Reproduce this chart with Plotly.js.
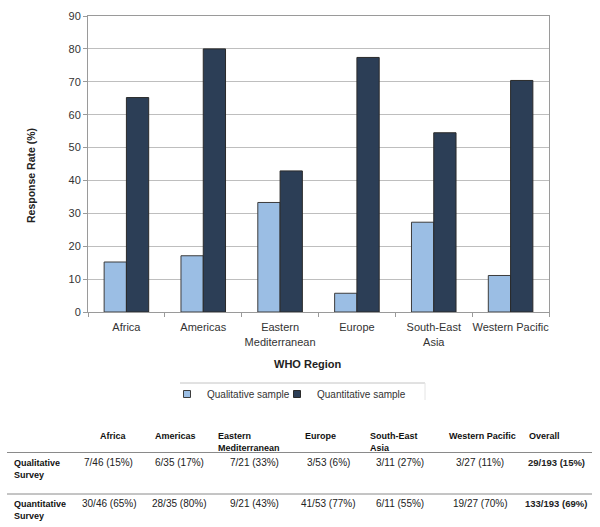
<!DOCTYPE html>
<html>
<head>
<meta charset="utf-8">
<script src="https://cdn.plot.ly/plotly-3.0.1.min.js"></script>
<style>html,body{margin:0;padding:0;background:#fff;}#chart{width:600px;height:527px;}</style>
</head>
<body>
<div id="chart"></div>
<script>
// ---- data ----
var regions = ['Africa', 'Americas', 'Eastern Mediterranean', 'Europe', 'South-East Asia', 'Western Pacific'];
var regionTickLabels = ['Africa', 'Americas', 'Eastern<br>Mediterranean', 'Europe', 'South-East<br>Asia', 'Western Pacific'];
var qualitativeRate = [15.2, 17.1, 33.3, 5.7, 27.3, 11.1];
var quantitativeRate = [65.2, 80.0, 42.9, 77.4, 54.5, 70.4];
var seriesNames = ['Qualitative sample', 'Quantitative sample'];
var yTicks = [0, 10, 20, 30, 40, 50, 60, 70, 80, 90];

var tableColumns = ['Africa', 'Americas', 'Eastern<br>Mediterranean', 'Europe', 'South-East<br>Asia', 'Western Pacific', 'Overall'];
var tableRowLabels = ['Qualitative<br>Survey', 'Quantitative<br>Survey'];
var qualitativeCells = ['7/46 (15%)', '6/35 (17%)', '7/21 (33%)', '3/53 (6%)', '3/11 (27%)', '3/27 (11%)', '29/193 (15%)'];
var quantitativeCells = ['30/46 (65%)', '28/35 (80%)', '9/21 (43%)', '41/53 (77%)', '6/11 (55%)', '19/27 (70%)', '133/193 (69%)'];

// ---- layout helpers (pixel -> paper) ----
var W = 600, H = 527;
var M = {l: 88, r: 51, t: 16, b: 215};
var PW = W - M.l - M.r, PH = H - M.t - M.b;
function px(x) { return (x - M.l) / PW; }
function py(y) { return (H - M.b - y) / PH; }

var FONT = 'Liberation Sans, Arial, Helvetica, sans-serif';
var LIGHT = '#9BBEE4';
var DARK = '#2C3E56';

var traces = [
  {type: 'bar', name: seriesNames[0], x: regions, y: qualitativeRate, showlegend: false,
   marker: {color: LIGHT, line: {color: '#3c3c3c', width: 1}}, hoverinfo: 'x+y'},
  {type: 'bar', name: seriesNames[1], x: regions, y: quantitativeRate, showlegend: false,
   marker: {color: DARK, line: {color: '#2a2a2a', width: 1}}, hoverinfo: 'x+y'},
  // legend keys (small squares)
  {type: 'scatter', mode: 'markers', name: seriesNames[0], x: [null], y: [null], legend: 'legend',
   marker: {symbol: 'square', size: 7, color: LIGHT, line: {color: '#3c3c3c', width: 1}}},
  {type: 'scatter', mode: 'markers', name: seriesNames[1], x: [null], y: [null], legend: 'legend2',
   marker: {symbol: 'square', size: 7, color: DARK, line: {color: '#2a2a2a', width: 1}}}
];

var colCenters = [108.5, 179, 254, 328, 400, 480, 556];
var headerLeft = [98, 153, 216, 303, 368, 447, 527];

var annotations = [
  {text: '<b>Response Rate (%)</b>', xref: 'paper', yref: 'paper', x: px(31), y: py(176),
   xanchor: 'center', yanchor: 'middle',
   textangle: -90, showarrow: false, font: {family: FONT, size: 10.5, color: '#222'}},
  {text: '<b>WHO Region</b>', xref: 'paper', yref: 'paper', x: px(307), y: py(364),
   xanchor: 'center', yanchor: 'middle',
   showarrow: false, font: {family: FONT, size: 11, color: '#222'}}
];

tableColumns.forEach(function (c, i) {
  annotations.push({text: '<b>' + c + '</b>', xref: 'paper', yref: 'paper', x: px(headerLeft[i]), y: py(429),
    xanchor: 'left', yanchor: 'top', align: 'left', showarrow: false,
    font: {family: FONT, size: 9, color: '#111'}});
});
var rowTops = [456, 497];
tableRowLabels.forEach(function (r, i) {
  annotations.push({text: '<b>' + r + '</b>', xref: 'paper', yref: 'paper', x: px(12), y: py(rowTops[i]),
    xanchor: 'left', yanchor: 'top', align: 'left', showarrow: false,
    font: {family: FONT, size: 9, color: '#111'}});
});
var rowCenters = [462, 503];
[qualitativeCells, quantitativeCells].forEach(function (row, r) {
  row.forEach(function (v, i) {
    var last = i === row.length - 1;
    annotations.push({text: last ? '<b>' + v + '</b>' : v, xref: 'paper', yref: 'paper',
      x: px(colCenters[i]), y: py(rowCenters[r]), xanchor: 'center', yanchor: 'middle', showarrow: false,
      font: {family: FONT, size: last ? 9.5 : 10, color: '#222'}});
  });
});

var shapes = [
  {type: 'line', xref: 'paper', yref: 'paper', x0: px(180), x1: px(425), y0: py(383), y1: py(383),
   line: {color: '#c4c4c4', width: 1}},
  {type: 'line', xref: 'paper', yref: 'paper', x0: px(425), x1: px(425), y0: py(383), y1: py(400),
   line: {color: '#e4e4e4', width: 1}},
  {type: 'line', xref: 'paper', yref: 'paper', x0: px(7), x1: px(592), y0: py(452.5), y1: py(452.5),
   line: {color: '#8a8a8a', width: 1}},
  {type: 'line', xref: 'paper', yref: 'paper', x0: px(7), x1: px(592), y0: py(494), y1: py(494),
   line: {color: '#8a8a8a', width: 1}}
];

var legendCommon = {orientation: 'h', xanchor: 'left', y: py(394), yanchor: 'middle',
  bgcolor: 'rgba(0,0,0,0)', borderwidth: 0, font: {family: FONT, size: 10, color: '#333'}, itemwidth: 30};

var layout = {
  width: W, height: H,
  margin: M,
  paper_bgcolor: '#fff', plot_bgcolor: '#fff',
  font: {family: FONT, size: 11, color: '#333'},
  barmode: 'group', bargap: 0.42, bargroupgap: 0,
  xaxis: {
    type: 'category', tickvals: regions, ticktext: regionTickLabels, tickangle: 0,
    tickson: 'boundaries', ticks: 'outside', ticklen: 4, tickcolor: '#9a9a9a', ticklabelstandoff: 5,
    showline: true, linecolor: '#9a9a9a', mirror: true, showgrid: false,
    tickfont: {family: FONT, size: 11, color: '#333'}, fixedrange: true
  },
  yaxis: {
    range: [0, 90], tickvals: yTicks, ticks: 'outside', ticklen: 4, tickcolor: '#9a9a9a',
    showline: true, linecolor: '#9a9a9a', mirror: true,
    showgrid: true, gridcolor: '#bebebe', gridwidth: 1, zeroline: false,
    tickfont: {family: FONT, size: 11, color: '#333'}, fixedrange: true
  },
  showlegend: true,
  legend: Object.assign({}, legendCommon, {x: px(167)}),
  legend2: Object.assign({}, legendCommon, {x: px(277)}),
  annotations: annotations,
  shapes: shapes
};

Plotly.newPlot('chart', traces, layout, {displayModeBar: false, staticPlot: true});
</script>
</body>
</html>
